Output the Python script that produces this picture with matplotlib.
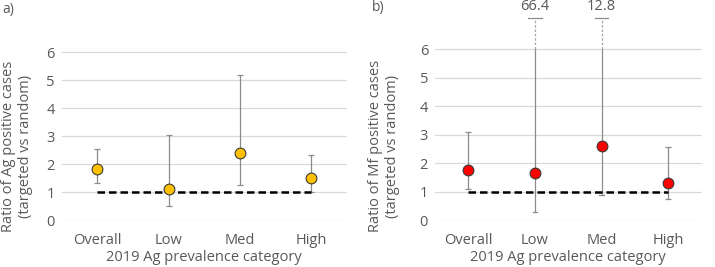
import matplotlib
matplotlib.use("Agg")
import matplotlib.pyplot as plt
import numpy as np

plt.rcParams['font.family'] = ['Open Sans', 'DejaVu Sans']

categories = ["Overall", "Low", "Med", "High"]

# Panel a: Ag positive cases ratio
ag_ratio = [1.81, 1.12, 2.38, 1.51]
ag_lower = [1.31, 0.51, 1.25, 1.00]
ag_upper = [2.53, 3.04, 5.19, 2.34]

# Panel b: Mf positive cases ratio
mf_ratio = [1.76, 1.65, 2.61, 1.31]
mf_lower = [1.08, 0.27, 0.88, 0.74]
mf_upper = [3.08, 66.4, 12.8, 2.57]

yticks = [0, 1, 2, 3, 4, 5, 6]
reference_value = 1.0
xlabel = "2019 Ag prevalence category"
ylabel_a = "Ratio of Ag positive cases\n(targeted vs random)"
ylabel_b = "Ratio of Mf positive cases\n(targeted vs random)"

W, H = 715, 267
fig = plt.figure(figsize=(W / 100, H / 100), dpi=100)

TEXT = "#595959"
GRID = "#D9D9D9"
ERR = "#8C8C8C"


def make_axes(x0, x1, p0, p6, ytop):
    # p0, p6: pixel rows (from top) for values 0 and 6
    per = (p0 - p6) / 6.0
    top_px = p0 - ytop * per
    ax = fig.add_axes([x0 / W, (H - p0) / H, (x1 - x0) / W, (p0 - top_px) / H])
    ax.set_ylim(0, ytop)
    ax.set_xlim(-0.5, 3.5)
    return ax


def style(ax):
    for s in ax.spines.values():
        s.set_visible(False)
    ax.set_yticks(yticks)
    ax.set_xticks(range(len(categories)))
    ax.set_xticklabels(categories)
    ax.tick_params(length=0, colors=TEXT, labelsize=10.5)
    ax.tick_params(axis='x', pad=9)
    ax.tick_params(axis='y', pad=5)
    for v in yticks:
        ax.axhline(v, color=GRID, lw=0.9, zorder=0)
    ax.set_xlabel(xlabel, color=TEXT, fontsize=10.5, labelpad=2)


def draw(ax, ratio, lower, upper, color, cap_val=None, top_shown=6.0):
    x = np.arange(len(categories))
    for xi, r, lo, up in zip(x, ratio, lower, upper):
        if cap_val is not None and up > top_shown:
            ax.plot([xi, xi], [lo, top_shown], color=ERR, lw=0.9, zorder=2)
            ax.plot([xi, xi], [top_shown, cap_val], color="#A6A6A6", lw=0.9, ls=(0, (2, 1.5)), zorder=2)
            ax.plot([xi - 0.1, xi + 0.1], [cap_val, cap_val], color=ERR, lw=0.9, zorder=2, clip_on=False)
            ax.plot([xi - 0.035, xi + 0.035], [lo, lo], color=ERR, lw=0.9, zorder=2)
            ax.text(xi, cap_val + 0.12, f"{up:g}", ha='center', va='bottom', color=TEXT,
                    fontsize=10.5, clip_on=False)
        else:
            ax.errorbar([xi], [r], yerr=[[r - lo], [up - r]], fmt='none', ecolor=ERR,
                        elinewidth=0.9, capsize=2.5, capthick=0.9, zorder=2)
    ax.plot([0, 3], [reference_value, reference_value], color='black', lw=1.8,
            ls=(0, (3, 1.6)), zorder=3)
    ax.scatter(x, ratio, s=60, color=color, edgecolor='#3a3a3a', linewidth=0.8, zorder=4)


ax_a = make_axes(61.7, 346.7, 220, 52.3, 6.15)
style(ax_a)
draw(ax_a, ag_ratio, ag_lower, ag_upper, "#FFC000")

ax_b = make_axes(435, 701.7, 220, 49.3, 7.73)
style(ax_b)
ax_b.set_ylim(0, 7.73)
draw(ax_b, mf_ratio, mf_lower, mf_upper, "#FF0000", cap_val=7.11)

fig.text(17 / W, 1 - 146 / H, ylabel_a, rotation=90, ha='center', va='center',
         color=TEXT, fontsize=10.5, multialignment='center')
fig.text((355 + 29) / W, 1 - 146 / H, ylabel_b, rotation=90, ha='center', va='center',
         color=TEXT, fontsize=10.5, multialignment='center')

fig.text(2 / W, 1 - 10 / H, "a)", ha='left', va='center', color=TEXT, fontsize=10)
fig.text(372 / W, 1 - 8 / H, "b)", ha='left', va='center', color=TEXT, fontsize=10)

fig.savefig("out.png", dpi=100)
